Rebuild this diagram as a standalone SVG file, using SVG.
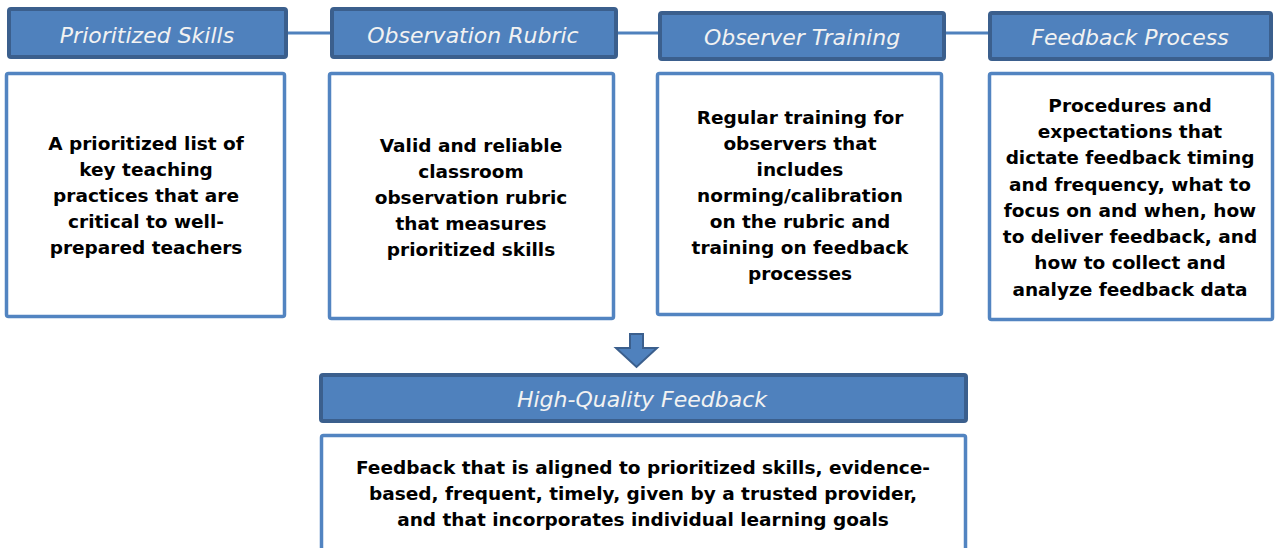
<svg xmlns="http://www.w3.org/2000/svg" width="1282" height="548" viewBox="0 0 1282 548">
<style>
.hdr{fill:#4F81BD;stroke:#3B5F8D;stroke-width:4}
.body{fill:#FFFFFF;stroke:#5284C1;stroke-width:3.5}
.ht{font-family:"DejaVu Sans","Liberation Sans",sans-serif;font-style:italic;font-size:22px;fill:#F2F2F2;text-anchor:middle}
.bt{font-family:"DejaVu Sans","Liberation Sans",sans-serif;font-weight:bold;font-size:18.5px;fill:#000000;text-anchor:middle}
.conn{stroke:#4F81BD;stroke-width:3;fill:none}
</style>
<rect width="1282" height="548" fill="#FFFFFF"/>
<g id="connectors">
<line class="conn" x1="287" y1="33" x2="988" y2="33"/>
<path d="M630,334 H643 V348 H657 L636.5,367 L616,348 H630 Z" fill="#4F81BD" stroke="#3B5F8D" stroke-width="2" stroke-linejoin="miter"/>
</g>
<g id="prioritized-skills">
<rect class="hdr" x="9" y="9" width="277" height="48" rx="2"/>
<text class="ht" x="147" y="43">Prioritized Skills</text>
<rect class="body" x="6.5" y="73.5" width="278" height="243" rx="2"/>
<text class="bt" x="146"><tspan x="146" y="150">A prioritized list of</tspan><tspan x="146" y="176">key teaching</tspan><tspan x="146" y="202">practices that are</tspan><tspan x="146" y="228">critical to well-</tspan><tspan x="146" y="254">prepared teachers</tspan></text>
</g>
<g id="observation-rubric">
<rect class="hdr" x="332" y="9" width="284" height="48" rx="2"/>
<text class="ht" x="473" y="43">Observation Rubric</text>
<rect class="body" x="329.5" y="73.5" width="284" height="245" rx="2"/>
<text class="bt" x="471"><tspan x="471" y="152">Valid and reliable</tspan><tspan x="471" y="178">classroom</tspan><tspan x="471" y="204">observation rubric</tspan><tspan x="471" y="230">that measures</tspan><tspan x="471" y="256">prioritized skills</tspan></text>
</g>
<g id="observer-training">
<rect class="hdr" x="660" y="13" width="284" height="46" rx="2"/>
<text class="ht" x="802" y="45">Observer Training</text>
<rect class="body" x="657.5" y="73.5" width="284" height="241" rx="2"/>
<text class="bt" x="800"><tspan x="800" y="124">Regular training for</tspan><tspan x="800" y="150">observers that</tspan><tspan x="800" y="176">includes</tspan><tspan x="800" y="202">norming/calibration</tspan><tspan x="800" y="228">on the rubric and</tspan><tspan x="800" y="254">training on feedback</tspan><tspan x="800" y="280">processes</tspan></text>
</g>
<g id="feedback-process">
<rect class="hdr" x="990" y="13" width="281" height="46" rx="2"/>
<text class="ht" x="1130" y="45">Feedback Process</text>
<rect class="body" x="989.5" y="73.5" width="283" height="246" rx="2"/>
<text class="bt" x="1130"><tspan x="1130" y="112">Procedures and</tspan><tspan x="1130" y="138">expectations that</tspan><tspan x="1130" y="164">dictate feedback timing</tspan><tspan x="1130" y="191">and frequency, what to</tspan><tspan x="1130" y="217">focus on and when, how</tspan><tspan x="1130" y="243">to deliver feedback, and</tspan><tspan x="1130" y="269">how to collect and</tspan><tspan x="1130" y="296">analyze feedback data</tspan></text>
</g>
<g id="high-quality-feedback">
<rect class="hdr" x="321" y="375" width="645" height="46" rx="2"/>
<text class="ht" x="642" y="407">High-Quality Feedback</text>
<rect class="body" x="321.5" y="435.5" width="644" height="120" rx="2"/>
<text class="bt" x="643"><tspan x="643" y="474">Feedback that is aligned to prioritized skills, evidence-</tspan><tspan x="643" y="500">based, frequent, timely, given by a trusted provider,</tspan><tspan x="643" y="526">and that incorporates individual learning goals</tspan></text>
</g>
</svg>
